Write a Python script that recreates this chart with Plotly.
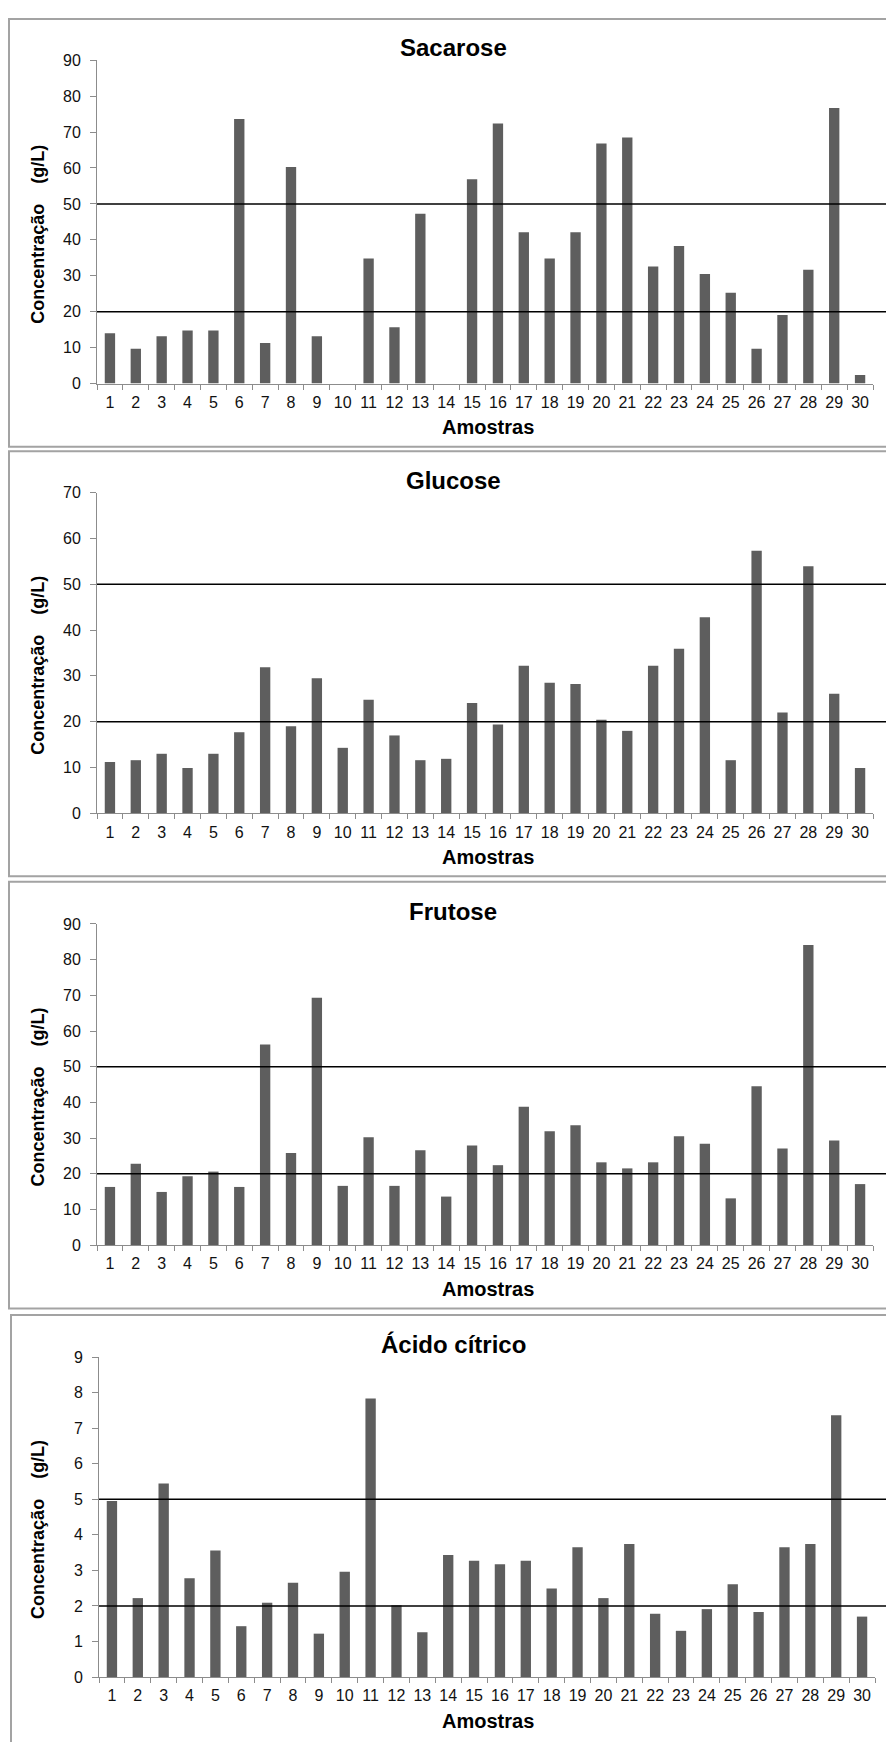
import plotly.graph_objects as go

W, H = 886, 1742

# ---------------- data ----------------
amostras = [str(i) for i in range(1, 31)]

sacarose = [14.0, 9.7, 13.2, 14.8, 14.8, 73.6, 11.3, 60.3, 13.2, 0.0,
            34.8, 15.7, 47.3, 0.0, 56.9, 72.4, 42.1, 34.8, 42.1, 66.8,
            68.5, 32.6, 38.3, 30.5, 25.3, 9.7, 19.1, 31.7, 76.7, 2.4]

glucose = [11.2, 11.6, 13.0, 9.9, 13.0, 17.7, 31.9, 19.0, 29.5, 14.3,
           24.8, 17.0, 11.6, 11.9, 24.1, 19.4, 32.2, 28.5, 28.2, 20.4,
           18.0, 32.2, 35.9, 42.8, 11.6, 57.3, 22.0, 53.9, 26.1, 9.9]

frutose = [16.3, 22.8, 14.9, 19.3, 20.6, 16.3, 56.2, 25.8, 69.3, 16.6,
           30.2, 16.6, 26.6, 13.6, 27.9, 22.4, 38.8, 31.9, 33.6, 23.2,
           21.5, 23.2, 30.5, 28.4, 13.1, 44.5, 27.1, 84.1, 29.3, 17.1]

acido_citrico = [4.95, 2.22, 5.44, 2.78, 3.56, 1.43, 2.09, 2.65, 1.22, 2.96,
                 7.83, 2.02, 1.26, 3.43, 3.27, 3.17, 3.27, 2.49, 3.65, 2.22,
                 3.74, 1.78, 1.30, 1.91, 2.61, 1.83, 3.65, 3.74, 7.36, 1.70]

titulos = ["Sacarose", "Glucose", "Frutose", "Ácido cítrico"]
series = [sacarose, glucose, frutose, acido_citrico]
y_max = [90, 70, 90, 9]
y_dtick = [10, 10, 10, 1]
limites = [[20, 50], [20, 50], [20, 50], [2, 5]]

x_title = "Amostras"
y_title = "Concentração\u00a0\u00a0\u00a0\u00a0(g/L)"

# ---------------- layout geometry (pixels) ----------------
panels = [
    dict(pl=97, pr=873, pt=52.7, pb=379.3, bt=11, bb=443, bl=9),
    dict(pl=97, pr=873, pt=489.3, pb=813.3, bt=447.7, bb=876.7, bl=9),
    dict(pl=97, pr=873, pt=925, pb=1249.3, bt=882.3, bb=1313.3, bl=9),
    dict(pl=99, pr=875, pt=1362.3, pb=1685.5, bt=1320, bb=1760, bl=11),
]

def px(x):
    return x / W

def py(y):
    return 1 - y / H

FONT = "Arial, 'Liberation Sans', sans-serif"
BAR_COLOR = "#5e5e5e"
AXIS_COLOR = "#8c8c8c"

fig = go.Figure()
shapes = []
annotations = []
layout_axes = {}

for i, (vals, title, ymax, dt, lims, p) in enumerate(
        zip(series, titulos, y_max, y_dtick, limites, panels)):
    n = "" if i == 0 else str(i + 1)
    fig.add_trace(go.Bar(
        x=amostras, y=vals, xaxis="x" + n, yaxis="y" + n,
        marker=dict(color=BAR_COLOR, line=dict(width=0)),
        showlegend=False, hoverinfo="x+y"))

    layout_axes["xaxis" + n] = dict(
        domain=[px(p["pl"]), px(p["pr"])], anchor="y" + n,
        type="category", categoryorder="array", categoryarray=amostras,
        showline=True, linecolor=AXIS_COLOR, linewidth=1,
        ticks="outside", tickson="boundaries", ticklen=5, tickcolor=AXIS_COLOR,
        showgrid=False, zeroline=False, tickangle=0,
        tickfont=dict(family=FONT, size=16, color="#111111"),
        ticklabelstandoff=4, fixedrange=True)
    layout_axes["yaxis" + n] = dict(
        domain=[py(p["pb"]), py(p["pt"])], anchor="x" + n,
        range=[0, ymax], dtick=dt, tick0=0,
        showline=True, linecolor=AXIS_COLOR, linewidth=1,
        ticks="outside", ticklen=6, tickcolor=AXIS_COLOR,
        showgrid=False, zeroline=False,
        tickfont=dict(family=FONT, size=16, color="#111111"),
        ticklabelstandoff=6, fixedrange=True)

    # reference lines
    for lv in lims:
        shapes.append(dict(type="line", xref="paper", yref="y" + n,
                           x0=px(p["pl"]), x1=1.0, y0=lv, y1=lv,
                           line=dict(color="black", width=1.6), layer="above"))
    # panel border
    shapes.append(dict(type="rect", xref="paper", yref="paper",
                       x0=px(p["bl"]), x1=1.02, y0=py(p["bb"]), y1=py(p["bt"]),
                       line=dict(color="#a3a3a3", width=2),
                       fillcolor="rgba(0,0,0,0)", layer="below"))
    # chart title
    annotations.append(dict(text="<b>%s</b>" % title, xref="paper", yref="paper",
                            x=px(453), y=py(p["pt"] - 12.5),
                            xanchor="center", yanchor="middle", showarrow=False,
                            font=dict(family=FONT, size=24, color="black")))
    # x title
    annotations.append(dict(text="<b>%s</b>" % x_title, xref="paper", yref="paper",
                            x=px(488), y=py(p["pb"] + 44),
                            xanchor="center", yanchor="middle", showarrow=False,
                            font=dict(family=FONT, size=20, color="black")))
    # y title
    annotations.append(dict(text="<b>%s</b>" % y_title, xref="paper", yref="paper",
                            x=px(38), y=py((p["pt"] + p["pb"]) / 2 + 13),
                            xanchor="center", yanchor="middle", showarrow=False,
                            textangle=-90,
                            font=dict(family=FONT, size=18, color="black")))

fig.update_layout(
    width=W, height=H,
    margin=dict(l=0, r=0, t=0, b=0),
    paper_bgcolor="white", plot_bgcolor="white",
    bargap=0.6,
    shapes=shapes, annotations=annotations,
    **layout_axes)

fig.write_html("out.html",
               post_script="document.documentElement.style.margin='0px';"
                           "document.body.style.margin='0px';"
                           "document.body.style.padding='0px';")
